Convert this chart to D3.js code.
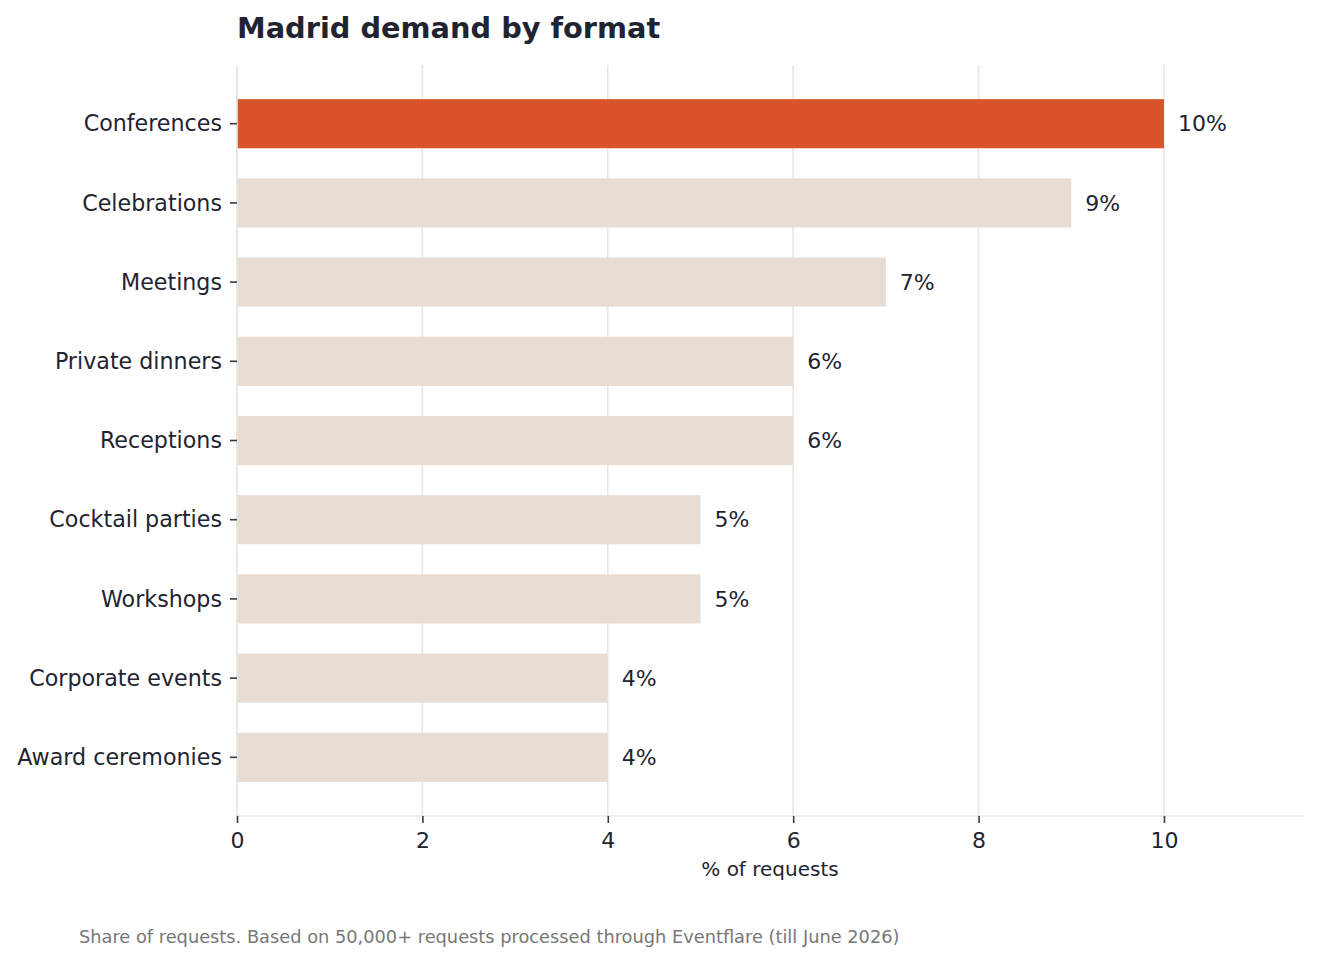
<!DOCTYPE html>
<html><head><meta charset="utf-8">
<script src="https://cdn.jsdelivr.net/npm/d3@7"></script>
<style>body{margin:0;background:#fff}svg{display:block}text{font-family:"DejaVu Sans",sans-serif}</style>
</head><body><svg id="c" width="1319" height="963"></svg>
<script>
const categories = ["Conferences","Celebrations","Meetings","Private dinners","Receptions","Cocktail parties","Workshops","Corporate events","Award ceremonies"];
const values = [10,9,7,6,6,5,5,4,4];
const xTicks = [0,2,4,6,8,10];
const title = "Madrid demand by format";
const xLabel = "% of requests";
const footnote = "Share of requests. Based on 50,000+ requests processed through Eventflare (till June 2026)";

const svg = d3.select("#c");
const L=237,R=1303,T=65,B=816;
const x = d3.scaleLinear().domain([0,11.5]).range([L,R]);
const n = categories.length, bh = 0.62;
const y = d3.scaleLinear().domain([-0.31-0.05*(n-1+bh), n-1+0.31+0.05*(n-1+bh)]).range([T,B]);
const textCol="#1f2430", tickCol="#333a45", gridCol="#ebe6e0";

// grid
svg.append("g").selectAll("line").data(xTicks).join("line")
  .attr("x1",d=>x(d)).attr("x2",d=>x(d)).attr("y1",T).attr("y2",B)
  .attr("stroke",gridCol).attr("stroke-width",1.6);

// bars
svg.append("g").selectAll("rect").data(values).join("rect")
  .attr("x",x(0)).attr("y",(d,i)=>y(i-bh/2)).attr("width",d=>x(d)-x(0))
  .attr("height",(d,i)=>y(i+bh/2)-y(i-bh/2))
  .attr("fill",(d,i)=>i===0?"#d9532c":"#e7ddd4");

// value labels
svg.append("g").selectAll("text").data(values).join("text")
  .attr("x",d=>x(d)+14).attr("y",(d,i)=>y(i)).attr("dy","0.35em")
  .attr("font-size",22).attr("fill",textCol).text(d=>d+"%");

// spines
svg.append("line").attr("x1",L).attr("x2",L).attr("y1",T).attr("y2",B).attr("stroke",gridCol).attr("stroke-width",1.6);
svg.append("line").attr("x1",L).attr("x2",R).attr("y1",B).attr("y2",B).attr("stroke",gridCol).attr("stroke-width",1.6);

// x axis
const xa = svg.append("g").attr("transform",`translate(0,${B})`)
  .call(d3.axisBottom(x).tickValues(xTicks).tickSize(7).tickPadding(9.5).tickFormat(d3.format("d")));
xa.select(".domain").remove();
xa.selectAll("line").attr("stroke",tickCol).attr("stroke-width",1.6);
xa.selectAll("text").attr("font-size",22).attr("fill",textCol).attr("font-family","DejaVu Sans");

// y axis
const yPos = d => y(categories.indexOf(d));
const ya = svg.append("g");
ya.selectAll("line").data(categories).join("line")
  .attr("x1",L-7).attr("x2",L).attr("y1",yPos).attr("y2",yPos)
  .attr("stroke",tickCol).attr("stroke-width",1.6);
ya.selectAll("text").data(categories).join("text")
  .attr("x",L-15).attr("y",yPos).attr("dy","0.35em").attr("text-anchor","end")
  .attr("font-size",22.2).attr("fill",textCol).text(d=>d);

svg.append("text").attr("x",(L+R)/2).attr("y",876).attr("text-anchor","middle")
  .attr("font-size",20).attr("fill",textCol).text(xLabel);
svg.append("text").attr("x",L).attr("y",38).attr("font-size",28.8).attr("font-weight","bold")
  .attr("fill",textCol).text(title);
svg.append("text").attr("x",79).attr("y",943).attr("font-size",17.8).attr("fill","#777")
  .text(footnote);
</script></body></html>
